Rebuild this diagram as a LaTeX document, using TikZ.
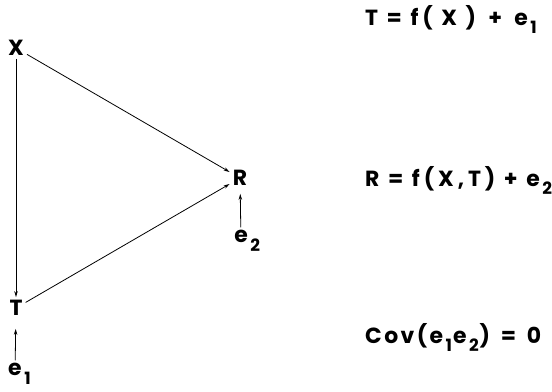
\documentclass[tikz,border=0pt]{standalone}
\usepackage{fontspec}
\setmainfont{Poppins}
\usetikzlibrary{arrows.meta}
\newcommand{\lo}[1]{\kern2.5bp\raisebox{-.7ex}{\fontsize{17}{17}\selectfont#1}}
\begin{document}
\begin{tikzpicture}[x=1bp, y=-1bp,
  var/.style={inner sep=3bp, font=\fontsize{22}{24}\selectfont\bfseries},
  eq/.style={anchor=base west, inner sep=0pt, font=\fontsize{22}{24}\selectfont\bfseries\addfontfeatures{LetterSpace=18}},
  arr/.style={-{Stealth[length=6bp,width=3.5bp]}, line width=0.8bp}]
\useasboundingbox (0,0) rectangle (552,391);
\node[var] (x) at (16,48) {X};
\node[var] (t) at (16,308) {T};
\node[var] (r) at (240,178) {R};
\node[var] (e2) at (241,241) {e\rlap{\lo{2}}};
\node[var] (e1) at (15,374) {e\rlap{\lo{1}}};
\node[eq] (eqt) at (365,25) {T = f( X ) \,+\, e\lo{1}};
\node[eq] (eqr) at (365,186) {R = f(X,T) + e\lo{2}};
\node[eq, font=\fontsize{22}{24}\selectfont\bfseries\addfontfeatures{LetterSpace=11}] (eqc) at (365,343) {Cov(e\lo{1}\kern1bp e\lo{2}\kern1bp) \,=\, 0};
\draw[arr] (x) -- (t);
\draw[arr] (x) -- (r);
\draw[arr] (t) -- (r);
\draw[arr, shorten >=10bp] (e1) -- (t);
\draw[arr, shorten >=5bp] (e2) -- (r);
\end{tikzpicture}
\end{document}
